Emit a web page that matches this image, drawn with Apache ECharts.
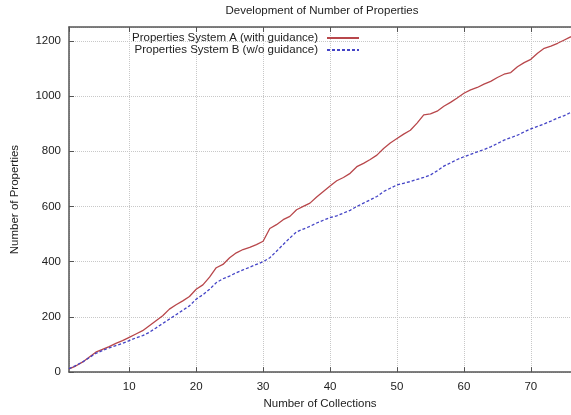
<!DOCTYPE html>
<html>
<head>
<meta charset="utf-8">
<script src="https://cdn.jsdelivr.net/npm/echarts@6/dist/echarts.min.js"></script>
<style>
html,body{margin:0;padding:0;background:#fff;}
#chart{width:571px;height:415px;}
</style>
</head>
<body>
<div id="chart"></div>
<script>
var chartTitle = 'Development of Number of Properties';
var xTitle = 'Number of Collections';
var yTitle = 'Number of Properties';
var seriesNames = ['Properties System A (with guidance)', 'Properties System B (w/o guidance)'];
var collections = [1,2,3,4,5,6,7,8,9,10,11,12,13,14,15,16,17,18,19,20,21,22,23,24,25,26,27,28,29,30,31,32,33,34,35,36,37,38,39,40,41,42,43,44,45,46,47,48,49,50,51,52,53,54,55,56,57,58,59,60,61,62,63,64,65,66,67,68,69,70,71,72,73,74,75,76];
var systemA = [12,22,36,54,72,82,92,104,114,126,138,150,168,186,204,228,244,258,274,300,316,344,378,390,414,432,444,452,462,474,520,534,552,564,588,600,612,634,654,674,693,705,720,744,756,770,786,810,830,846,862,876,902,932,935,945,963,977,993,1010,1022,1031,1043,1053,1067,1079,1085,1106,1121,1133,1155,1173,1181,1191,1203,1215];
var systemB = [12,24,36,52,68,78,88,96,104,114,124,132,144,160,176,192,208,224,240,264,280,300,324,338,348,360,370,380,390,400,414,438,462,486,508,518,528,540,550,560,566,576,586,600,612,624,636,654,666,678,684,690,698,705,714,729,746,758,770,780,789,798,806,816,828,840,849,858,870,881,890,899,909,920,929,941];

function pairs(xs, ys){ return xs.map(function(x,i){ return [x, ys[i]]; }); }

var FONT = '"Liberation Sans", Arial, sans-serif';
var TXT = '#222';
var AXIS = '#555';
var GRIDC = '#c8c8c8';

var chart = echarts.init(document.getElementById('chart'), null, {renderer:'canvas'});
chart.setOption({
  animation: false,
  backgroundColor: '#fff',
  textStyle: {fontFamily: FONT},
  graphic: [{
    type: 'text', x: 322, y: 11,
    style: {text: chartTitle, fill: TXT, font: '11.5px ' + FONT, textAlign: 'center', textVerticalAlign: 'middle'}
  }],
  grid: {left: 69, right: 0, top: 27, bottom: 40, containLabel: false},
  legend: {
    orient: 'vertical', align: 'right', right: 211, top: 32, padding: 0,
    itemWidth: 32, itemHeight: 12, itemGap: 0,
    itemStyle: {opacity: 0},
    textStyle: {fontFamily: FONT, fontSize: 11.5, color: TXT, lineHeight: 12, padding: [0, 4, 0, 0]},
    data: seriesNames
  },
  xAxis: [{
    type: 'value', min: 1, max: 76, splitNumber: 7,
    name: xTitle, nameLocation: 'middle', nameGap: 25,
    nameTextStyle: {fontFamily: FONT, fontSize: 11.5, color: TXT},
    axisLine: {show: true, onZero: false, lineStyle: {color: AXIS, width: 1.5}},
    axisTick: {show: true, inside: true, length: 5, lineStyle: {color: AXIS}},
    axisLabel: {showMinLabel: false, showMaxLabel: false, margin: 9, fontFamily: FONT, fontSize: 11.5, color: TXT},
    splitLine: {show: true, lineStyle: {color: GRIDC, type: 'dotted', width: 1}}
  }, {
    type: 'value', position: 'top', min: 1, max: 76, splitNumber: 7,
    axisLine: {show: true, onZero: false, lineStyle: {color: AXIS, width: 1.5}},
    axisTick: {show: true, inside: true, length: 5, lineStyle: {color: AXIS}},
    axisLabel: {show: false},
    splitLine: {show: false}
  }],
  yAxis: {
    type: 'value', min: 0, max: 1250, interval: 200,
    name: yTitle, nameLocation: 'middle', nameGap: 48, nameRotate: 90,
    nameTextStyle: {fontFamily: FONT, fontSize: 11.5, color: TXT},
    axisLine: {show: true, onZero: false, lineStyle: {color: AXIS, width: 1.5}},
    axisTick: {show: true, inside: true, length: 5, lineStyle: {color: AXIS}},
    axisLabel: {showMaxLabel: false, margin: 8, fontFamily: FONT, fontSize: 11.5, color: TXT,
      formatter: function(v){ return String(v); }},
    splitLine: {show: true, lineStyle: {color: GRIDC, type: 'dotted', width: 1}}
  },
  series: [{
    name: seriesNames[0], type: 'line', data: pairs(collections, systemA),
    showSymbol: false, symbol: 'none', color: '#b8474b',
    lineStyle: {color: '#b8474b', width: 1.3}
  }, {
    name: seriesNames[1], type: 'line', data: pairs(collections, systemB),
    showSymbol: false, symbol: 'none', color: '#4444c6',
    lineStyle: {color: '#4444c6', width: 1.3, type: [3, 2]}
  }]
});
</script>
</body>
</html>
